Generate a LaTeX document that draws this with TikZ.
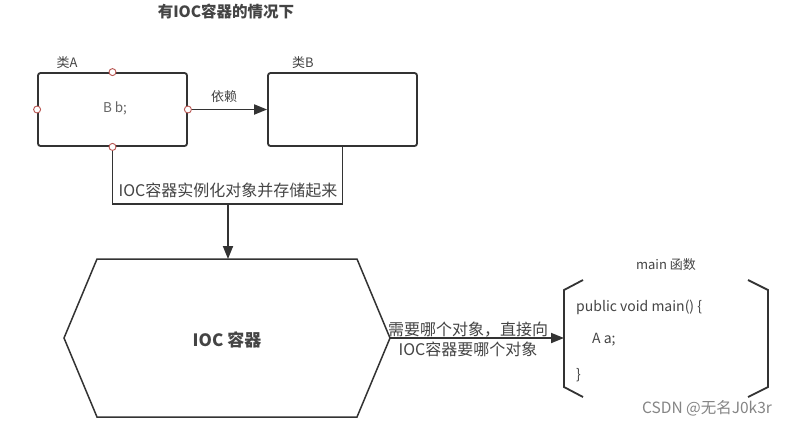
\documentclass[tikz,border=0pt]{standalone}
\usepackage{fontspec}
\setmainfont{Noto Sans CJK SC}
\usetikzlibrary{arrows.meta,calc}
\definecolor{ln}{HTML}{333333}
\definecolor{tx}{HTML}{444444}
\definecolor{lt}{HTML}{666666}
\definecolor{port}{HTML}{B85450}
\begin{document}
\begin{tikzpicture}[x=1pt,y=-1pt,
  box/.style={draw=ln,line width=1.8pt,rounded corners=2.5pt,minimum width=149pt,minimum height=73pt,inner sep=0pt,fill=white},
  port/.style={circle,draw=port,fill=white,line width=0.9pt,minimum size=7pt,inner sep=0pt},
  conn/.style={draw=ln,line width=1.8pt},
  tip/.style={-{Triangle[length=13pt,width=10pt]}},
  lbl/.style={text=tx,font=\fontsize{13}{15}\selectfont,inner sep=0pt},
  elbl/.style={text=tx,font=\fontsize{16}{20}\selectfont,inner sep=0pt,align=center},
  code/.style={text=tx,font=\fontsize{14}{16}\selectfont,inner sep=0pt,anchor=west}]
\useasboundingbox[fill=white] (0,0) rectangle (791,426);
% title
\node[text=tx,font=\fontsize{15.5}{17}\selectfont\bfseries,inner sep=0pt] (title) at (226,12) {有IOC容器的情况下};
% class boxes
\node[box] (A) at (112.5,109.5) {};
\node[text=lt,font=\fontsize{13.5}{15}\selectfont,inner sep=0pt] (Atext) at (115,108) {B b;};
\node[lbl,text=tx] (Alabel) at (67,63) {类A};
\node[box] (B) at (342.5,109.5) {};
\node[lbl] (Blabel) at (303,63) {类B};
% ports
\node[port] (pT) at (A.north) {};
\node[port] (pL) at (A.west) {};
\node[port] (pR) at (A.east) {};
\node[port] (pB) at (A.south) {};
% dependency arrow
\draw[conn,tip] (pR) -- (B.west);
\node[lbl] (dep) at (224,97) {依赖};
% junction connector
\coordinate (j) at (228,204);
\draw[conn] (pB) |- (j) -| (B.south);
\node[elbl] (inst) at (228,190) {IOC容器实例化对象并存储起来};
% hexagon
\coordinate (h1) at (97,259);
\coordinate (h2) at (357,259);
\coordinate (h3) at (390,338);
\coordinate (h4) at (357,417);
\coordinate (h5) at (97,417);
\coordinate (h6) at (64,338);
\draw[draw=ln,line width=1.5pt,line join=miter] (h1) -- (h2) -- (h3) -- (h4) -- (h5) -- (h6) -- cycle;
\node[text=tx,font=\fontsize{17}{19}\selectfont\bfseries,inner sep=0pt] (ioc) at (227,340) {IOC 容器};
\coordinate (iocTop) at (228,259);
\draw[conn,tip] (j) -- (iocTop);
% main bracket
\coordinate (mL) at (564,338);
\draw[draw=ln,line width=1.8pt,line join=miter] (583,280) -- (564,290) -- (564,387) -- (583,397);
\draw[draw=ln,line width=1.8pt,line join=miter] (748,280) -- (768,290) -- (768,387) -- (748,397);
\node[text=tx,font=\fontsize{13}{15}\selectfont,inner sep=0pt] (mainlbl) at (666,265) {main 函数};
\node[code] (c1) at (576,307) {public void main() \{};
\node[code] (c2) at (592,340) {A a;};
\node[code] (c3) at (576,375) {\}};
% request arrow
\draw[conn,tip] (h3) -- (mL);
\node[elbl] (req) at (468,339.5) {需要哪个对象，直接向\\IOC容器要哪个对象};
% watermark
\node[text=lt!80,font=\fontsize{15.5}{17}\selectfont,inner sep=0pt] (wm) at (707,408) {CSDN @无名J0k3r};
\end{tikzpicture}
\end{document}
